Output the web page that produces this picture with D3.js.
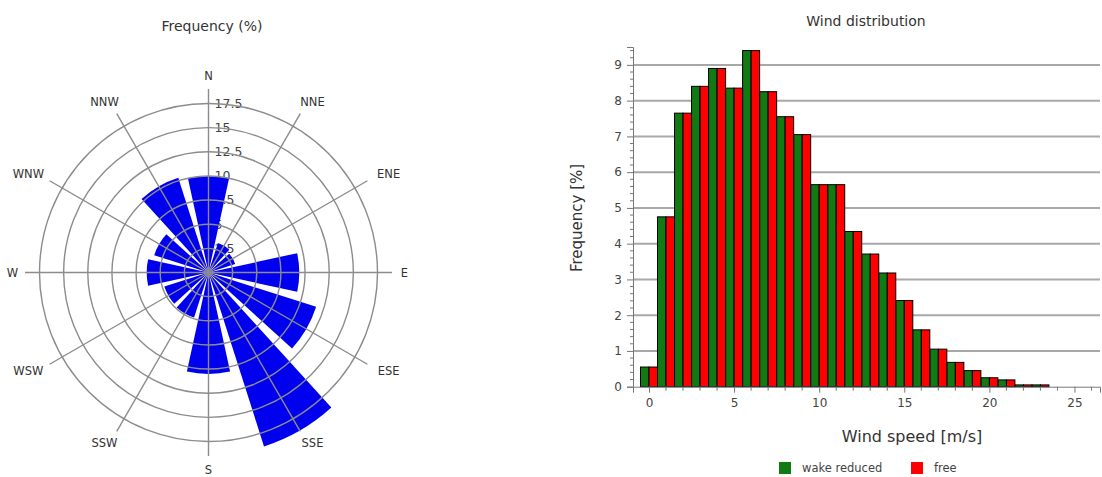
<!DOCTYPE html>
<html><head><meta charset="utf-8">
<script src="https://cdn.jsdelivr.net/npm/d3@7"></script>
<style>
body{margin:0;background:#fff;}
svg{display:block;font-family:"DejaVu Sans",Verdana,sans-serif;}
</style></head>
<body><svg id="c" width="1102" height="477"></svg>
<script>
// ---- Wind rose data ----
const directions = ["N","NNE","ENE","E","ESE","SSE","S","SSW","WSW","W","WNW","NNW"];
const directionAngles = [0,30,60,90,120,150,180,210,240,270,300,330];
const roseFrequency = [10.0,3.2,2.9,9.4,11.7,18.9,10.5,4.9,4.8,6.4,5.9,10.3];
const ringValues = [2.5,5,7.5,10,12.5,15,17.5];
const ringLabels = ["2.5","5","7.5","10","12.5","15","17.5"];

// ---- Histogram data ----
const windSpeeds = [0,1,2,3,4,5,6,7,8,9,10,11,12,13,14,15,16,17,18,19,20,21,22,23];
const wakeReduced = [0.55,4.75,7.65,8.4,8.9,8.35,9.4,8.25,7.55,7.05,5.65,5.65,4.34,3.71,3.18,2.41,1.59,1.05,0.68,0.45,0.25,0.19,0.05,0.05];
const freeFlow    = [0.55,4.75,7.65,8.4,8.9,8.35,9.4,8.25,7.55,7.05,5.65,5.65,4.34,3.71,3.18,2.41,1.59,1.05,0.68,0.45,0.25,0.19,0.05,0.05];
const xTicks = [0,5,10,15,20,25];
const yTicks = [0,1,2,3,4,5,6,7,8,9];
const seriesNames = ["wake reduced","free"];
const seriesColors = ["#127a12","#ff0000"];

const svg = d3.select("#c");

// ================= Wind rose =================
const cx = 208.5, cy = 272.5;
const r = d3.scaleLinear().domain([0,17.5]).range([0,169]);
const rose = svg.append("g").attr("transform",`translate(${cx},${cy})`);
svg.append("text").attr("x",212).attr("y",31).attr("text-anchor","middle")
  .attr("font-size",14).attr("fill","#333").text("Frequency (%)");

// ring labels (underneath bars)
rose.selectAll("text.ring").data(ringValues).join("text")
  .attr("class","ring").attr("x",6).attr("y",d=>-r(d)).attr("dy","0.35em")
  .attr("font-size",12.5).attr("fill","#444").text((d,i)=>ringLabels[i]);

const half = 12.3*Math.PI/180;
const arc = d3.arc().innerRadius(0).outerRadius(d=>r(d.v))
  .startAngle(d=>d.a*Math.PI/180-half).endAngle(d=>d.a*Math.PI/180+half);
rose.selectAll("path.sec").data(directionAngles.map((a,i)=>({a,v:roseFrequency[i]})))
  .join("path").attr("class","sec").attr("d",arc).attr("fill","#0000ee");

// grid on top
rose.selectAll("circle.grid").data(ringValues).join("circle")
  .attr("r",d=>r(d)).attr("fill","none").attr("stroke","#8c8c8c").attr("stroke-width",1.4);
const axLen = r(19);
rose.selectAll("line.ax").data(directionAngles).join("line")
  .attr("x1",0).attr("y1",0)
  .attr("x2",d=>axLen*Math.sin(d*Math.PI/180)).attr("y2",d=>-axLen*Math.cos(d*Math.PI/180))
  .attr("stroke","#8c8c8c").attr("stroke-width",1.4);
rose.selectAll("text.dir").data(directions).join("text")
  .attr("class","dir").attr("font-size",11.5).attr("fill","#333")
  .attr("text-anchor","middle").attr("dy","0.35em")
  .attr("x",(d,i)=>{const a=directionAngles[i]*Math.PI/180;return 190*Math.sin(a)+d.length*6*Math.sin(a);})
  .attr("y",(d,i)=>{const a=directionAngles[i]*Math.PI/180;return -190*Math.cos(a)-7*Math.cos(a);})
  .text(d=>d);

// ================= Histogram =================
const x = d3.scaleLinear().domain([-0.94,26.5]).range([633,1100]);
const y = d3.scaleLinear().domain([0,9.5]).range([386.7,47]);
const g = svg.append("g");

svg.append("text").attr("x",866).attr("y",26).attr("text-anchor","middle")
  .attr("font-size",14).attr("fill","#333").text("Wind distribution");

// gridlines
g.selectAll("line.gy").data(yTicks.slice(1)).join("line")
  .attr("x1",x.range()[0]).attr("x2",x.range()[1])
  .attr("y1",d=>y(d)).attr("y2",d=>y(d))
  .attr("stroke","#a8a8a8").attr("stroke-width",2);

// bars
const bw = 0.5;
g.selectAll("rect.w").data(windSpeeds.map((s,i)=>({s,v:wakeReduced[i]}))).join("rect")
  .attr("x",d=>x(d.s-bw)).attr("width",d=>x(d.s)-x(d.s-bw))
  .attr("y",d=>y(d.v)).attr("height",d=>y(0)-y(d.v))
  .attr("fill",seriesColors[0]).attr("stroke","#000").attr("stroke-width",1);
g.selectAll("rect.f").data(windSpeeds.map((s,i)=>({s,v:freeFlow[i]}))).join("rect")
  .attr("x",d=>x(d.s)).attr("width",d=>x(d.s+bw)-x(d.s))
  .attr("y",d=>y(d.v)).attr("height",d=>y(0)-y(d.v))
  .attr("fill",seriesColors[1]).attr("stroke","#000").attr("stroke-width",1);

// axes
const yAxis = d3.axisLeft(y).tickValues(yTicks).tickFormat(d3.format("d")).tickSize(6).tickPadding(5);
const ya = g.append("g").attr("transform",`translate(${x.range()[0]},0)`).call(yAxis);
const yMinor = d3.range(0,9.5,0.2).filter(v=>Math.abs(v-Math.round(v))>1e-6);
ya.selectAll("line.minor").data(yMinor).join("line").attr("class","minor")
  .attr("x1",-3).attr("x2",0).attr("y1",d=>y(d)).attr("y2",d=>y(d)).attr("stroke","#777");
const xAxis = d3.axisBottom(x).tickValues(xTicks).tickFormat(d3.format("d")).tickSize(6).tickPadding(6);
const xa = g.append("g").attr("transform",`translate(0,${y(0)})`).call(xAxis);
const xMinor = d3.range(-0,27,1).filter(v=>v%5!==0);
xa.selectAll("line.minor").data(xMinor).join("line").attr("class","minor")
  .attr("x1",d=>x(d)).attr("x2",d=>x(d)).attr("y1",0).attr("y2",4).attr("stroke","#777");
[ya,xa].forEach(a=>{
  a.selectAll(".domain").attr("stroke","#777");
  a.selectAll(".tick line").attr("stroke","#777");
  a.selectAll(".tick text").attr("font-size",12).attr("fill","#444").attr("font-family","DejaVu Sans,sans-serif");
});

svg.append("text").attr("transform","translate(582,218) rotate(-90)")
  .attr("text-anchor","middle").attr("font-size",15).attr("fill","#333").text("Frequency [%]");
svg.append("text").attr("x",912).attr("y",442).attr("text-anchor","middle")
  .attr("font-size",16).attr("fill","#333").text("Wind speed [m/s]");

// legend
const legX = [779,911];
const leg = svg.append("g");
seriesNames.forEach((n,i)=>{
  leg.append("rect").attr("x",legX[i]).attr("y",462).attr("width",12).attr("height",12).attr("fill",seriesColors[i]);
  leg.append("text").attr("x",legX[i]+23).attr("y",472).attr("font-size",11.5).attr("fill","#444").text(n);
});
</script></body></html>
